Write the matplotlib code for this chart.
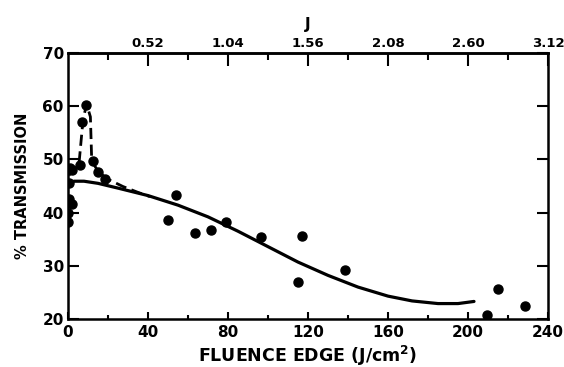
import matplotlib
matplotlib.use("Agg")
import matplotlib.pyplot as plt
from matplotlib.ticker import MultipleLocator, FixedLocator

# Measured data points (fluence J/cm^2, % transmission)
pts_x = [0.0, 0.2, 0.3, 0.5, 1.0, 1.8, 1.8, 6.0, 6.8, 9.0, 12.7, 14.8, 18.5,
         50.2, 53.8, 63.5, 71.3, 78.8, 96.5, 115.2, 117.2, 138.5, 209.7, 214.8, 228.5]
pts_y = [38.3, 40.0, 42.5, 45.6, 48.4, 41.6, 48.0, 49.0, 57.1, 60.3, 49.7, 47.6, 46.3,
         38.7, 43.3, 36.2, 36.7, 38.2, 35.5, 26.9, 35.6, 29.2, 20.8, 25.6, 22.4]

# Solid fitted curve
fit_x = [1.0, 3, 8, 15, 25, 40, 55, 70, 85, 100, 115, 130, 145, 160, 172, 185, 195, 203]
fit_y = [45.4, 45.9, 45.9, 45.5, 44.6, 43.2, 41.4, 39.2, 36.5, 33.6, 30.7, 28.2, 26.0, 24.3, 23.4, 22.9, 22.9, 23.3]

# Dashed curve through low-fluence points
dash_x = [0.5, 3, 5.5, 7.5, 9.3, 11.2, 11.8, 13, 15, 19.3, 27.5, 35, 41]
dash_y = [47.0, 48.2, 49.2, 57.4, 60.4, 58.0, 50.5, 49.0, 47.8, 46.4, 44.9, 43.8, 43.0]

x_ticks = [0, 40, 80, 120, 160, 200, 240]
y_ticks = [20, 30, 40, 50, 60, 70]
top_ticks = [0.52, 1.04, 1.56, 2.08, 2.60, 3.12]
top_labels = ["0.52", "1.04", "1.56", "2.08", "2.60", "3.12"]

J_PER_FLUENCE = 3.12 / 240.0

plt.rcParams['font.family'] = ['DejaVu Sans']
plt.rcParams['font.weight'] = 'bold'
plt.rcParams['mathtext.default'] = 'bf'

fig = plt.figure(figsize=(5.64, 3.67), dpi=100)
ax = fig.add_axes([68/564, 1-319/367, 480/564, 266/367])

ax.plot(fit_x, fit_y, color='black', lw=2.3, solid_capstyle='round', zorder=2)
ax.plot(dash_x, dash_y, color='black', lw=2.0, linestyle=(0, (4.0, 2.0)), zorder=2)
ax.plot(pts_x, pts_y, 'o', color='black', markersize=6.5, zorder=3)

ax.set_xlim(0, 240)
ax.set_ylim(20, 70)

ax.xaxis.set_major_locator(FixedLocator(x_ticks))
ax.xaxis.set_minor_locator(MultipleLocator(20))
ax.yaxis.set_major_locator(FixedLocator(y_ticks))

for s in ax.spines.values():
    s.set_linewidth(1.8)

ax.tick_params(axis='x', which='major', direction='in', length=5, width=1.5,
               labelsize=11, pad=4, bottom=True, top=False)
ax.tick_params(axis='x', which='minor', direction='in', length=3, width=1.5,
               bottom=True, top=False)
ax.tick_params(axis='y', which='major', direction='in', length=8, width=1.5,
               labelsize=11, pad=3, left=True, right=True)

ax.set_xlabel("FLUENCE EDGE (J/cm$^{2}$)", fontsize=12.5, fontweight='bold', labelpad=3)
ax.set_ylabel("% TRANSMISSION", fontsize=10.5, fontweight='bold', labelpad=9)

sec = ax.secondary_xaxis('top', functions=(lambda x: x * J_PER_FLUENCE,
                                            lambda j: j / J_PER_FLUENCE))
sec.xaxis.set_major_locator(FixedLocator(top_ticks))
sec.xaxis.set_minor_locator(FixedLocator([0.26, 0.78, 1.30, 1.82, 2.34, 2.86]))
sec.set_xticklabels(top_labels)
sec.tick_params(axis='x', which='major', direction='in', length=9, width=1.5,
                labelsize=9.5, pad=2)
sec.tick_params(axis='x', which='minor', direction='in', length=5, width=1.5)
sec.spines['top'].set_linewidth(1.8)
sec.set_xlabel("J", fontsize=11, fontweight='bold', labelpad=6)

fig.savefig("out.png", dpi=100)
